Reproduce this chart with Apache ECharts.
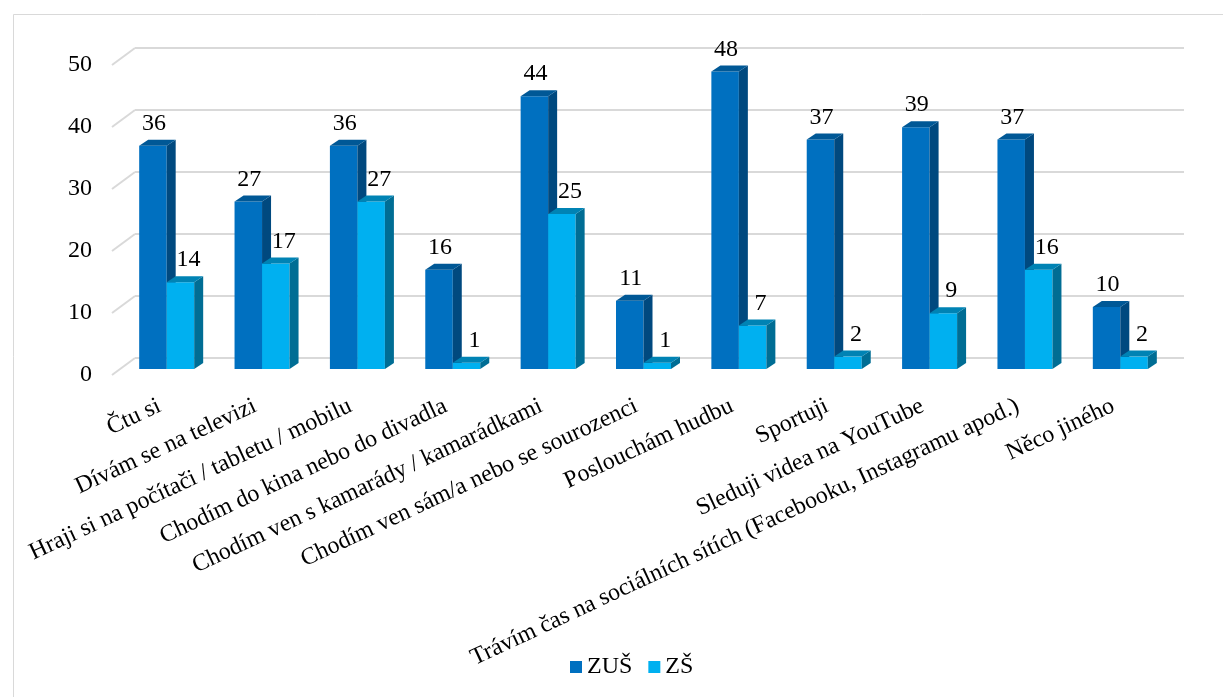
<!DOCTYPE html>
<html>
<head>
<meta charset="utf-8">
<script src="https://cdn.jsdelivr.net/npm/echarts@6/dist/echarts.min.js"></script>
<style>
html,body{margin:0;padding:0;background:#fff;}
#chart{width:1223px;height:697px;}
</style>
</head>
<body>
<div id="chart"></div>
<script>
const categories = [
  'Čtu si',
  'Dívám se na televizi',
  'Hraji si na počítači / tabletu / mobilu',
  'Chodím do kina nebo do divadla',
  'Chodím ven s kamarády / kamarádkami',
  'Chodím ven sám/a nebo se sourozenci',
  'Poslouchám hudbu',
  'Sportuji',
  'Sleduji videa na YouTube',
  'Trávím čas na sociálních sítích (Facebooku, Instagramu apod.)',
  'Něco jiného'
];
const zusValues = [36, 27, 36, 16, 44, 11, 48, 37, 39, 37, 10];
const zsValues = [14, 17, 27, 1, 25, 1, 7, 2, 9, 16, 2];
const yTicks = [0, 10, 20, 30, 40, 50];

const FONT = '"Liberation Serif", "Times New Roman", serif';
const FS = 24;
const DX = 9, DY = 6, BW = 27.5;

const palette = {
  'ZUŠ': {front: '#0070C0', side: '#00497F', top: '#005896', labelOff: 1, left: true},
  'ZŠ': {front: '#00B0F0', side: '#006D94', top: '#0083B4', labelOff: 8, left: false}
};

function barRenderer(name) {
  const p = palette[name];
  return function (params, api) {
    const cat = api.value(0), v = api.value(1);
    const c = api.coord([cat, v]);
    const b = api.coord([cat, 0]);
    const x0 = p.left ? c[0] - BW : c[0];
    const x1 = x0 + BW;
    const yt = c[1], yb = b[1];
    return {
      type: 'group',
      children: [
        {type: 'rect', shape: {x: x0, y: yt, width: BW, height: yb - yt}, style: {fill: p.front}},
        {type: 'polygon', shape: {points: [[x1, yt], [x1 + DX, yt - DY], [x1 + DX, yb - DY], [x1, yb]]}, style: {fill: p.side}},
        {type: 'polygon', shape: {points: [[x0, yt], [x0 + DX, yt - DY], [x1 + DX, yt - DY], [x1, yt]]}, style: {fill: p.top}},
        {type: 'text', style: {text: String(v), x: x0 + BW / 2 + p.labelOff, y: yt - DY - 4,
          align: 'center', verticalAlign: 'bottom', fontSize: FS, fontFamily: FONT, fill: '#000'}}
      ]
    };
  };
}

const chart = echarts.init(document.getElementById('chart'), null, {renderer: 'canvas'});
chart.setOption({
  animation: false,
  backgroundColor: '#ffffff',
  graphic: [{
    type: 'rect', left: 11, top: 12, z: -10,
    shape: {width: 1300, height: 800},
    style: {fill: 'none', stroke: '#d9d9d9', lineWidth: 1}
  }],
  legend: {
    data: [{name: 'ZUŠ', icon: 'rect'}, {name: 'ZŠ', icon: 'rect'}],
    left: 565, top: 650,
    itemWidth: 12, itemHeight: 12, itemGap: 16,
    textStyle: {fontSize: FS, fontFamily: FONT, color: '#000'}
  },
  grid: [
    {left: 135, right: 39, top: 48, bottom: 339},
    {left: 112, right: 62, top: 65, bottom: 322},
    {left: 119, right: 55, top: 59, bottom: 328}
  ],
  xAxis: [
    {gridIndex: 0, type: 'category', data: categories, axisLine: {show: false}, axisTick: {show: false}, axisLabel: {show: false}},
    {gridIndex: 1, type: 'category', data: categories, axisLine: {show: false}, axisTick: {show: false},
      axisLabel: {interval: 0, rotate: 25, margin: 30, fontSize: FS, fontFamily: FONT, color: '#000'}},
    {gridIndex: 2, type: 'category', data: categories, axisLine: {show: false}, axisTick: {show: false}, axisLabel: {show: false}}
  ],
  yAxis: [
    {gridIndex: 0, type: 'value', min: 0, max: 50, interval: 10, axisLine: {show: false}, axisTick: {show: false},
      axisLabel: {show: false}, splitLine: {lineStyle: {color: '#d9d9d9', width: 2}}},
    {gridIndex: 1, type: 'value', min: 0, max: 50, interval: 10, axisLine: {show: false}, axisTick: {show: false},
      splitLine: {show: false}, axisLabel: {margin: 20, fontSize: FS, fontFamily: FONT, color: '#000'}},
    {gridIndex: 2, type: 'value', min: 0, max: 50, interval: 10, axisLine: {show: false}, axisTick: {show: false},
      splitLine: {show: false}, axisLabel: {show: false}}
  ],
  series: [
    {
      type: 'custom', name: 'walls', xAxisIndex: 0, yAxisIndex: 0, silent: true, z: 1,
      data: yTicks.map(v => [0, v]),
      renderItem: function (params, api) {
        const p = api.coord([0, api.value(1)]);
        const left = p[0] - api.size([1, 0])[0] / 2;
        return {type: 'line', shape: {x1: left - 23, y1: p[1] + 17, x2: left, y2: p[1]},
          style: {stroke: '#d9d9d9', lineWidth: 2}};
      }
    },
    {
      type: 'custom', name: 'ZUŠ', xAxisIndex: 2, yAxisIndex: 2, z: 3,
      itemStyle: {color: '#0070C0'},
      data: zusValues.map((v, i) => [i, v]),
      renderItem: barRenderer('ZUŠ')
    },
    {
      type: 'custom', name: 'ZŠ', xAxisIndex: 2, yAxisIndex: 2, z: 4,
      itemStyle: {color: '#00B0F0'},
      data: zsValues.map((v, i) => [i, v]),
      renderItem: barRenderer('ZŠ')
    }
  ]
});
</script>
</body>
</html>
